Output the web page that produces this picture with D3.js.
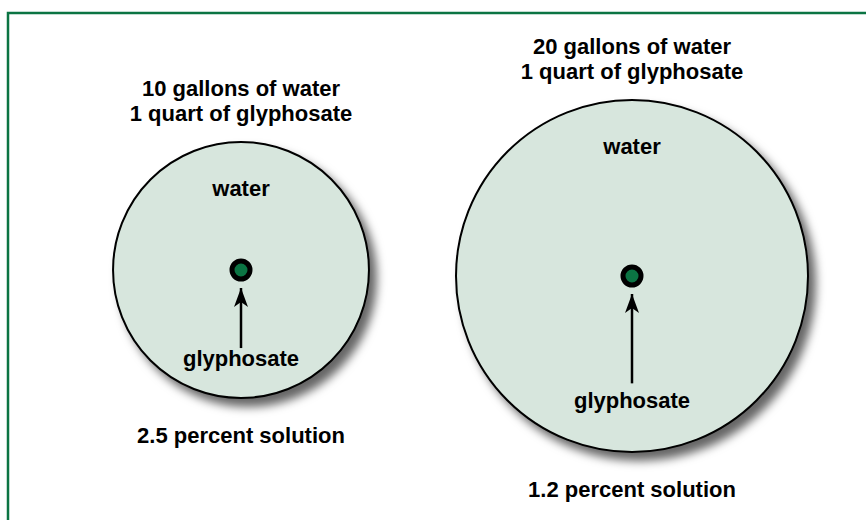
<!DOCTYPE html>
<html>
<head>
<meta charset="utf-8">
<script src="https://cdn.jsdelivr.net/npm/d3@7"></script>
<style>
  body { margin: 0; background: #ffffff; }
</style>
</head>
<body>
<svg id="Chart"></svg>
<script>
// values
var panels = ["small", "large"]
var gallons = [10, 20]
var glyphosate = ["1 quart", "1 quart"]
var percent = ["2.5", "1.2"]

var dimensions = {
    width: 866,
    height: 520,
    centerX: [241, 632],
    centerY: [270, 276]
}

var font = "'Liberation Sans', Arial, sans-serif"

var svg = d3.select("#Chart")
            .attr("width", dimensions.width)
            .attr("height", dimensions.height)

var defs = svg.append("defs")

defs.append("filter")
    .attr("id", "shadow")
    .attr("x", "-20%").attr("y", "-20%")
    .attr("width", "150%").attr("height", "150%")
    .append("feDropShadow")
    .attr("dx", 7)
    .attr("dy", 8)
    .attr("stdDeviation", 5)
    .attr("flood-color", "#000")
    .attr("flood-opacity", 0.6)

// notched arrow head, pointing along +x
defs.append("marker")
    .attr("id", "head")
    .attr("viewBox", "-20 -8 21 16")
    .attr("refX", 0)
    .attr("refY", 0)
    .attr("markerWidth", 21)
    .attr("markerHeight", 16)
    .attr("markerUnits", "userSpaceOnUse")
    .attr("orient", "auto")
    .append("path")
    .attr("d", "M0,0 L-19,7 L-14,0 L-19,-7 Z")
    .attr("fill", "#000")

// frame
svg.append("rect")
   .attr("x", 8)
   .attr("y", 13)
   .attr("width", 900)
   .attr("height", 600)
   .attr("fill", "none")
   .attr("stroke", "#0b7443")
   .attr("stroke-width", 2.5)

var xScale = d3.scaleOrdinal().domain(panels).range(dimensions.centerX)
var yScale = d3.scaleOrdinal().domain(panels).range(dimensions.centerY)
// bucket size grows with the volume of water
var rScale = d3.scalePow().exponent(0.46).domain([0, 20]).range([0, 176])

var groups = svg.selectAll(".panel")
                .data(panels)
                .enter()
                .append("g")
                .attr("class", "panel")
                .attr("transform", d => `translate(${xScale(d)},${yScale(d)})`)

groups.append("circle")
      .attr("r", (d, i) => rScale(gallons[i]))
      .attr("fill", "#d7e6dd")
      .attr("stroke", "#000")
      .attr("stroke-width", 2)
      .attr("filter", "url(#shadow)")

groups.append("circle")
      .attr("r", 9)
      .attr("fill", "#0b7443")
      .attr("stroke", "#000")
      .attr("stroke-width", 5)

groups.append("line")
      .attr("x1", 0)
      .attr("x2", 0)
      .attr("y1", (d, i) => rScale(gallons[i]) * 0.61)
      .attr("y2", 18)
      .attr("stroke", "#000")
      .attr("stroke-width", 2.5)
      .attr("marker-end", "url(#head)")

function label(sel, y, txt) {
    sel.append("text")
       .attr("x", 0)
       .attr("y", y)
       .attr("text-anchor", "middle")
       .attr("font-family", font)
       .attr("font-weight", "bold")
       .attr("font-size", "22px")
       .attr("fill", "#000")
       .text(txt)
}

groups.each(function(d, i) {
    var g = d3.select(this)
    var r = rScale(gallons[i])
    label(g, -r - 46, `${gallons[i]} gallons of water`)
    label(g, -r - 21, `${glyphosate[i]} of glyphosate`)
    label(g, -r + 54, "water")
    label(g, r * 0.75, "glyphosate")
    label(g, r + 45, `${percent[i]} percent solution`)
})
</script>
</body>
</html>
